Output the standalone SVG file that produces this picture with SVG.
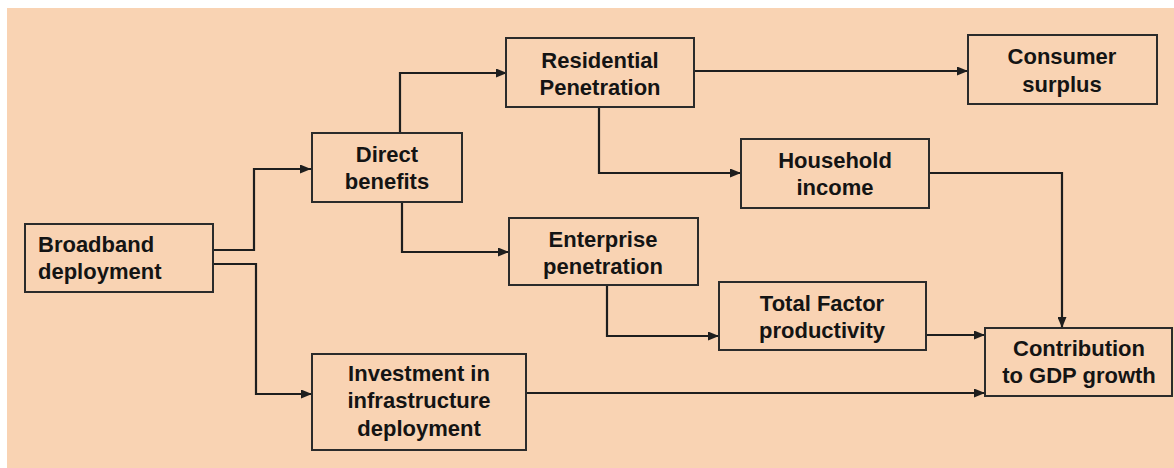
<svg xmlns="http://www.w3.org/2000/svg" width="1174" height="468" viewBox="0 0 1174 468">
<style>
  .box { fill: #F9D3B3; stroke: #2b2b2b; stroke-width: 2; }
  .lbl { font-family: "Liberation Sans", Arial, sans-serif; font-weight: bold; font-size: 22px; fill: #141414; text-anchor: middle; }
  .left { text-anchor: start; }
  .conn { fill: none; stroke: #1e1e1e; stroke-width: 2.2; marker-end: url(#arr); }
</style>
<defs>
  <marker id="arr" markerUnits="userSpaceOnUse" markerWidth="11" markerHeight="9" refX="11" refY="4.5" orient="auto">
    <path d="M0,0 L11,4.5 L0,9 z" fill="#1e1e1e"/>
  </marker>
</defs>
<rect x="0" y="0" width="1174" height="468" fill="#ffffff"/>
<rect x="7" y="8" width="1167" height="460" fill="#F9D3B3"/>

<g id="connectors">
  <path class="conn" d="M213,250 H254 V169 H311"/>
  <path class="conn" d="M213,264 H256 V394 H312"/>
  <path class="conn" d="M400,133 V73 H507"/>
  <path class="conn" d="M402,202 V252 H509"/>
  <path class="conn" d="M694,71 H968"/>
  <path class="conn" d="M599,107 V173 H741"/>
  <path class="conn" d="M607,285 V336 H719"/>
  <path class="conn" d="M929,173 H1062 V328"/>
  <path class="conn" d="M926,335 H985"/>
  <path class="conn" d="M526,393 H985"/>
</g>

<g id="broadband">
  <rect class="box" x="25" y="224" width="188" height="68"/>
  <text class="lbl left" x="38" y="252">Broadband</text>
  <text class="lbl left" x="38" y="279">deployment</text>
</g>
<g id="direct">
  <rect class="box" x="312" y="133" width="150" height="69"/>
  <text class="lbl" x="387" y="162">Direct</text>
  <text class="lbl" x="387" y="189">benefits</text>
</g>
<g id="residential">
  <rect class="box" x="506" y="38" width="188" height="69"/>
  <text class="lbl" x="600" y="68">Residential</text>
  <text class="lbl" x="600" y="95">Penetration</text>
</g>
<g id="consumer">
  <rect class="box" x="968" y="35" width="189" height="69"/>
  <text class="lbl" x="1062" y="64">Consumer</text>
  <text class="lbl" x="1062" y="92">surplus</text>
</g>
<g id="household">
  <rect class="box" x="741" y="139" width="188" height="69"/>
  <text class="lbl" x="835" y="168">Household</text>
  <text class="lbl" x="835" y="195">income</text>
</g>
<g id="enterprise">
  <rect class="box" x="509" y="218" width="189" height="67"/>
  <text class="lbl" x="603" y="247">Enterprise</text>
  <text class="lbl" x="603" y="274">penetration</text>
</g>
<g id="tfp">
  <rect class="box" x="719" y="282" width="207" height="68"/>
  <text class="lbl" x="822" y="311">Total Factor</text>
  <text class="lbl" x="822" y="338">productivity</text>
</g>
<g id="investment">
  <rect class="box" x="312" y="354" width="214" height="96"/>
  <text class="lbl" x="419" y="381">Investment in</text>
  <text class="lbl" x="419" y="408">infrastructure</text>
  <text class="lbl" x="419" y="436">deployment</text>
</g>
<g id="contribution">
  <rect class="box" x="985" y="328" width="187" height="68"/>
  <text class="lbl" x="1079" y="356">Contribution</text>
  <text class="lbl" x="1079" y="383">to GDP growth</text>
</g>
</svg>
